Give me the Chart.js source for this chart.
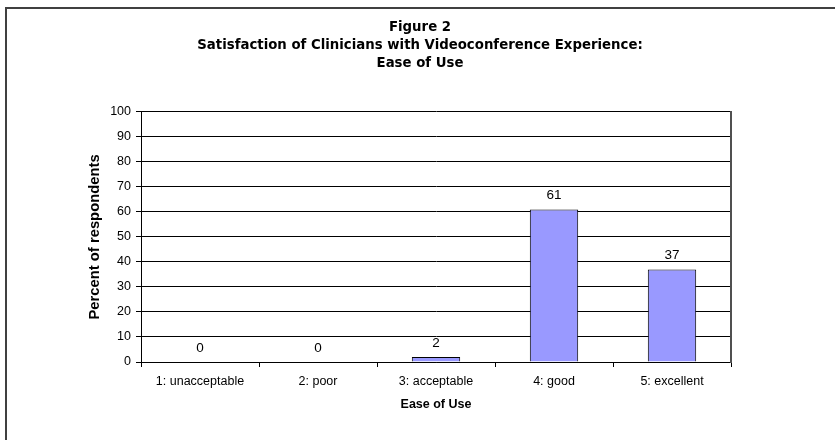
<!DOCTYPE html>
<html>
<head>
<meta charset="utf-8">
<script src="https://cdn.jsdelivr.net/npm/chart.js@4/dist/chart.umd.min.js"></script>
<style>
  body { margin: 0; background: #fff; }
  #wrap { position: relative; width: 835px; height: 440px; overflow: hidden; }
  #frame { position: absolute; left: 5px; top: 7px; width: 900px; height: 500px;
           border-left: 2px solid #404040; border-top: 2px solid #404040; }
  canvas { position: absolute; left: 0; top: 0; }
</style>
</head>
<body>
<div id="wrap">
  <div id="frame"></div>
  <canvas id="chart" width="835" height="440"></canvas>
</div>
<script>
const titleLines = ['Figure 2', 'Satisfaction of Clinicians with Videoconference Experience:', 'Ease of Use'];
const categories = ['1: unacceptable', '2: poor', '3: acceptable', '4: good', '5: excellent'];
const percentValues = [0, 0, 2, 61, 37];
const yTicksMin = 0;
const yTicksMax = 100;
const yTicksStep = 10;

// draws the value above each bar
const valueLabels = {
  id: 'valueLabels',
  afterDatasetsDraw(chart) {
    const ctx = chart.ctx;
    const meta = chart.getDatasetMeta(0);
    ctx.save();
    ctx.font = '13.5px "Liberation Sans", Arial, sans-serif';
    ctx.fillStyle = '#000';
    ctx.textAlign = 'center';
    ctx.textBaseline = 'middle';
    meta.data.forEach((bar, i) => {
      ctx.fillText(String(percentValues[i]), bar.x, bar.y - 14);
    });
    ctx.restore();
  }
};

const ctx = document.getElementById('chart').getContext('2d');
new Chart(ctx, {
  type: 'bar',
  data: {
    labels: categories,
    datasets: [{
      data: percentValues,
      backgroundColor: '#9999FF',
      borderColor: '#000',
      borderWidth: 1,
      borderSkipped: 'bottom',
      categoryPercentage: 0.41,
      barPercentage: 1
    }]
  },
  options: {
    responsive: false,
    animation: false,
    // left/right padding also centre the title box on x = 420
    layout: { padding: { left: 80, right: 75, top: 0, bottom: 0 } },
    plugins: {
      legend: { display: false },
      tooltip: { enabled: false },
      title: {
        display: true,
        text: titleLines,
        color: '#000',
        font: { family: '"DejaVu Sans", Verdana, sans-serif', size: 13.3, weight: 'bold', lineHeight: 1.35 },
        padding: { top: 19, bottom: 39 }
      }
    },
    scales: {
      x: {
        grid: { display: true, drawOnChartArea: false, offset: true, tickLength: 5, color: '#000' },
        border: { display: true, color: '#000', width: 1 },
        ticks: { color: '#000', padding: 7, maxRotation: 0,
                 font: { family: '"Liberation Sans", Arial, sans-serif', size: 12.5 } },
        title: { display: true, text: 'Ease of Use', color: '#000',
                 font: { family: '"Liberation Sans", Arial, sans-serif', size: 12.5, weight: 'bold' },
                 padding: { top: 0, bottom: 28 } },
        afterFit(scale) { scale.height = 78; }
      },
      y: {
        min: yTicksMin,
        max: yTicksMax,
        ticks: { stepSize: yTicksStep, color: '#000', padding: 5,
                 font: { family: '"Liberation Sans", Arial, sans-serif', size: 12.5 } },
        grid: { color: '#000', tickLength: 5, lineWidth: 1 },
        border: { display: true, color: '#000', width: 1 },
        title: { display: true, text: 'Percent of respondents', color: '#000',
                 font: { family: '"Liberation Sans", Arial, sans-serif', size: 14.8, weight: 'bold' },
                 padding: { top: 6, bottom: 0 } },
        afterFit(scale) { scale.width = 61; }
      },
      y2: {
        position: 'right',
        grid: { display: false },
        ticks: { display: false },
        border: { display: true, color: '#505050', width: 2 },
        afterFit(scale) { scale.width = 29; }
      }
    }
  },
  plugins: [valueLabels]
});
</script>
</body>
</html>
